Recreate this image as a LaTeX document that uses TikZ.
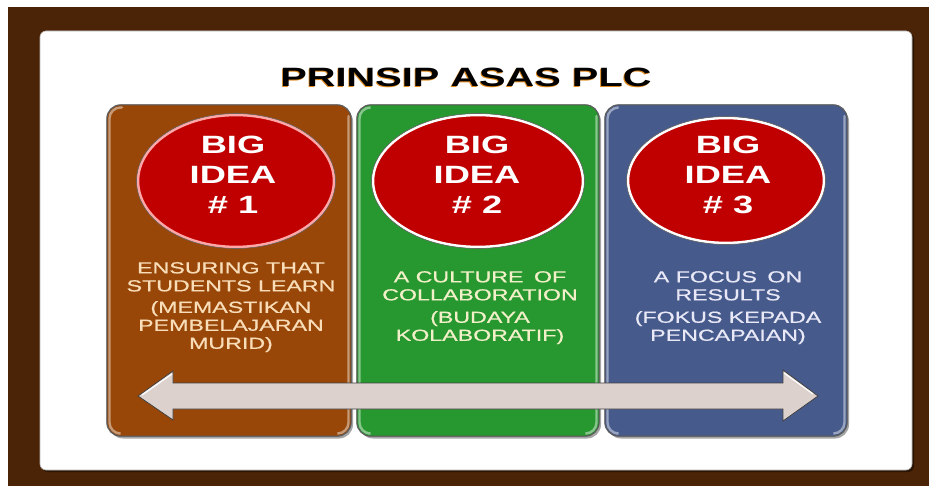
\documentclass[tikz,border=0pt]{standalone}
\usepackage{fontspec}
\setmainfont{Liberation Sans}
\newfontfamily\widefont[FakeStretch=1.45]{Liberation Sans}
\newfontfamily\bodyfont[FakeStretch=1.45,FakeBold=0.7]{Liberation Sans}
\newfontfamily\titlefont[FakeStretch=1.5]{Liberation Sans}
\usetikzlibrary{shapes.geometric,shadows}
\definecolor{framebrown}{HTML}{4B2307}
\definecolor{pbrown}{HTML}{984708}
\definecolor{pgreen}{HTML}{27972F}
\definecolor{pblue}{HTML}{465A8C}
\definecolor{bigred}{HTML}{C00000}
\definecolor{arrowfill}{HTML}{DDD1CD}
\definecolor{txtbrown}{HTML}{F8DDB8}
\definecolor{txtgreen}{HTML}{F2F0C8}
\definecolor{txtblue}{HTML}{E8E8F6}
\definecolor{titleshadow}{HTML}{E08A1E}
\tikzset{
  card/.style={rectangle, rounded corners=6pt, fill=white, draw=gray!60, line width=0.6pt,
    minimum width=872, minimum height=439, inner sep=0,
    drop shadow={shadow xshift=2pt, shadow yshift=-2pt, opacity=0.45, fill=black}},
  panel/.style={rectangle, rounded corners=14pt, draw=gray!70!black, line width=0.7pt,
    minimum height=331, inner sep=0,
    drop shadow={shadow xshift=2pt, shadow yshift=-2.5pt, opacity=0.35, fill=black}},
  bevel/.style={line width=2.4pt, rounded corners=11pt, line cap=round},
  bigidea/.style={ellipse, fill=bigred, draw=white, line width=2.6pt, inner sep=0},
  bigtext/.style={font=\widefont\bfseries\fontsize{25}{30}\selectfont, text=white,
    align=center, inner sep=0, anchor=north},
  body/.style={font=\bodyfont\fontsize{16}{18}\selectfont, align=center, inner sep=0, anchor=north},
}
\begin{document}
\begin{tikzpicture}[x=1pt,y=-1pt]
\useasboundingbox (0,0) rectangle (929,486);
\fill[white] (0,0) rectangle (929,486);
\fill[framebrown] (8,7) rectangle (929,486);
\node[card] (card) at (476,250.5) {};

% title
\node[font=\titlefont\bfseries\fontsize{26.5}{30}\selectfont, text=titleshadow, anchor=base, inner sep=0]
  (titlesh) at (465.2,87.8) {PRINSIP ASAS PLC};
\node[font=\titlefont\bfseries\fontsize{26.5}{30}\selectfont, text=black, anchor=base, inner sep=0]
  (title) at (466,87) {PRINSIP ASAS PLC};

% panels
\node[panel, fill=pbrown, minimum width=244] (p1) at (229,270.5) {};
\node[panel, fill=pgreen, minimum width=242] (p2) at (478,270.5) {};
\node[panel, fill=pblue,  minimum width=242] (p3) at (726,270.5) {};
% bevel highlights (left and right inner edges)
\draw[bevel, pbrown!55!white] (122,107.5) -- (109.5,107.5) -- (109.5,433.5) -- (118,433.5);
\draw[bevel, pbrown!55!white] (348.5,116) -- (348.5,433.5) -- (338,433.5);
\draw[bevel, pgreen!55!white] (370,107.5) -- (359.5,107.5) -- (359.5,433.5) -- (368,433.5);
\draw[bevel, pgreen!55!white] (596.5,116) -- (596.5,433.5) -- (586,433.5);
\draw[bevel, pblue!55!white] (618,107.5) -- (607.5,107.5) -- (607.5,433.5) -- (616,433.5);
\draw[bevel, pblue!55!white] (844.5,116) -- (844.5,433.5) -- (834,433.5);
% redraw panel outlines over bevels
\draw[gray!70!black, line width=0.7pt, rounded corners=14pt] (p1.south west) rectangle (p1.north east);
\draw[gray!70!black, line width=0.7pt, rounded corners=14pt] (p2.south west) rectangle (p2.north east);
\draw[gray!70!black, line width=0.7pt, rounded corners=14pt] (p3.south west) rectangle (p3.north east);

% big idea ellipses
\node[bigidea, draw=red!35!white, minimum width=196, minimum height=132] (e1) at (236,181) {};
\node[bigidea, minimum width=210, minimum height=132] (e2) at (478,181) {};
\node[bigidea, minimum width=196, minimum height=125] (e3) at (726,180.5) {};
\draw[gray!80!black, line width=0.6pt] (e1.center) ellipse [x radius=99.5, y radius=67.5];
\draw[gray!80!black, line width=0.6pt] (e2.center) ellipse [x radius=106.5, y radius=67.5];
\draw[gray!80!black, line width=0.6pt] (e3.center) ellipse [x radius=99.5, y radius=64];

\node[bigtext] (b1) at (233,136) {BIG\\IDEA\\\# 1};
\node[bigtext] (b2) at (477,136) {BIG\\IDEA\\\# 2};
\node[bigtext] (b3) at (728,136) {BIG\\IDEA\\\# 3};

% body texts
\node[body, text=txtbrown] (t1a) at (231,262) {ENSURING THAT\\STUDENTS LEARN};
\node[body, text=txtbrown] (t1b) at (231,301) {(MEMASTIKAN\\PEMBELAJARAN\\MURID)};
\node[body, text=txtgreen] (t2a) at (480,271) {A CULTURE\hspace{4pt} OF\\COLLABORATION};
\node[body, text=txtgreen] (t2b) at (480,311) {(BUDAYA\\KOLABORATIF)};
\node[body, text=txtblue] (t3a) at (728,271) {A FOCUS\hspace{4pt} ON\\RESULTS};
\node[body, text=txtblue] (t3b) at (728,311) {(FOKUS KEPADA\\PENCAPAIAN)};

% double arrow
\draw[fill=arrowfill, draw=black!75, line width=0.8pt, line join=miter]
  (138,396) -- (173,371) -- (173,383) -- (783,383) -- (783,370) -- (818,396)
  -- (783,421) -- (783,409) -- (173,409) -- (173,420) -- cycle;
\draw[white, line width=1.2pt] (142,395) -- (172,374);
\draw[white, line width=1.2pt] (784,373) -- (813,394);
\end{tikzpicture}
\end{document}
